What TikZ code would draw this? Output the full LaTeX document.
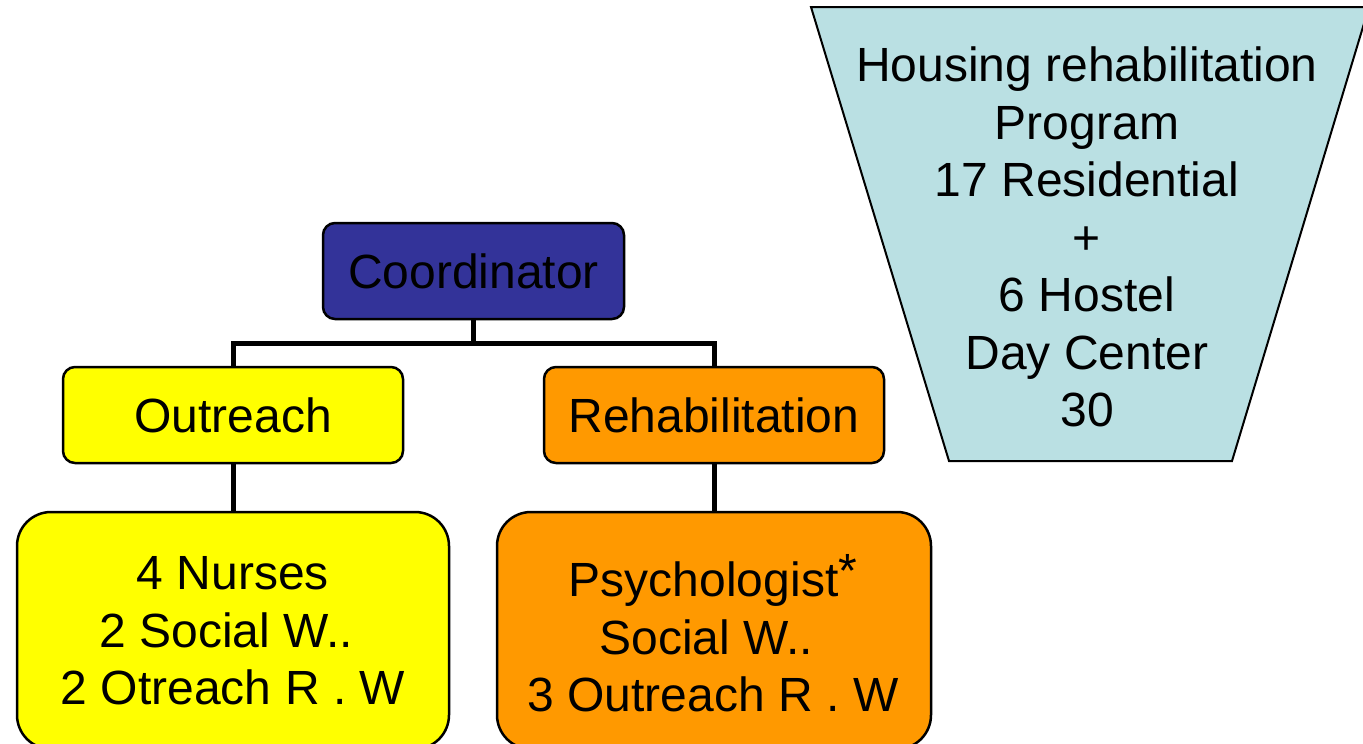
\documentclass[tikz,border=0pt]{standalone}
\usepackage{fontspec}
\setmainfont{Liberation Sans}
\definecolor{coordblue}{HTML}{333399}
\definecolor{outyellow}{HTML}{FFFF00}
\definecolor{rehaborange}{HTML}{FF9900}
\definecolor{houseblue}{HTML}{BAE0E3}
\begin{document}
\begin{tikzpicture}[x=1pt,y=-1pt,
  every node/.style={font=\fontsize{48}{57.5}\selectfont, inner sep=0pt, align=center},
  smallbox/.style={draw=black, line width=2.5pt, rounded corners=12pt, minimum width=#1, minimum height=96pt},
  staffbox/.style={draw=black, line width=2.5pt, rounded corners=34pt, minimum width=#1, minimum height=237pt},
  link/.style={draw=black, line width=5pt}]
\useasboundingbox (0,0) rectangle (1363,744);

% program trapezoid
\coordinate (tl) at (811,7);
\coordinate (tr) at (1369,7);
\coordinate (br) at (1232,461);
\coordinate (bl) at (949,461);
\draw[fill=houseblue, line width=2pt] (tl) -- (tr) -- (br) -- (bl) -- cycle;
\node (housing) at (1087,237) {Housing rehabilitation\\Program\\17 Residential\\+\\6 Hostel\\Day Center\\30};

% hierarchy boxes
\node[smallbox=301pt, fill=coordblue] (coord) at (473.5,271) {Coordinator};
\node[smallbox=340pt, fill=outyellow] (outreach) at (233,415) {Outreach};
\node[smallbox=340pt, fill=rehaborange] (rehab) at (714,415) {Rehabilitation};
\node[staffbox=432pt, fill=outyellow] (outstaff) at (233,630.5) {};
\node[staffbox=434pt, fill=rehaborange] (rehabstaff) at (714,630.5) {};
\node (outtext) at (233,631) {4 Nurses\\2 Social W..\ \mbox{}\\2 Otreach R . W};
\node (rehabtext) at (713,633.5) {Psychologist\raisebox{9pt}{*}\\Social W..\ \mbox{}\\3 Outreach R . W};

% connectors
\coordinate (fork) at (473.5,343);
\draw[link] (coord.south) -- (fork);
\draw[link] (outreach.north) |- (fork) -| (rehab.north);
\draw[link] (outreach.south) -- (outstaff.north);
\draw[link] (rehab.south) -- (rehabstaff.north);
\end{tikzpicture}
\end{document}
